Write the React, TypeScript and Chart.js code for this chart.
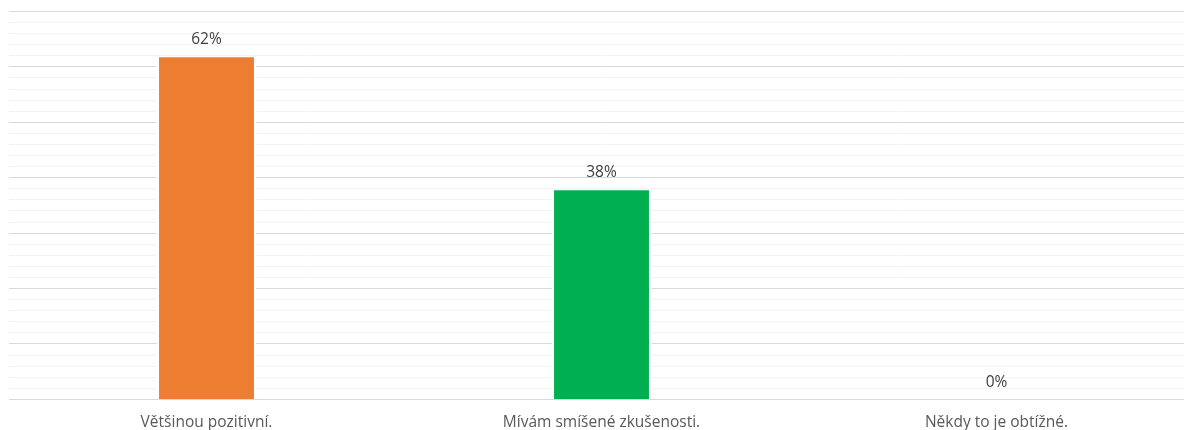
import React, { useEffect, useRef } from "react";
import { Chart, registerables } from "chart.js";

Chart.register(...registerables);

const categories = ["Většinou pozitivní.", "Mívám smíšené zkušenosti.", "Někdy to je obtížné."];
const values = [62, 38, 0];
const barColors = ["#ED7D31", "#00B050", "#4472C4"];
const yMax = 70;
const yStep = 2;

const FONT = "'Open Sans', sans-serif";
const FONT_SIZE = 15.5;

const dataLabels = {
  id: "dataLabels",
  afterDatasetsDraw(chart: any) {
    const ctx = chart.ctx;
    const meta = chart.getDatasetMeta(0);
    const yScale = chart.scales.y;
    ctx.save();
    ctx.font = `${FONT_SIZE}px ${FONT}`;
    ctx.fillStyle = "#404040";
    ctx.textAlign = "center";
    ctx.textBaseline = "alphabetic";
    meta.data.forEach((el: any, i: number) => {
      ctx.fillText(`${values[i]}%`, el.x, yScale.getPixelForValue(values[i]) - 12);
    });
    ctx.restore();
  },
};

export default function App() {
  const ref = useRef<HTMLCanvasElement>(null);
  useEffect(() => {
    const chart = new Chart(ref.current!, {
      type: "bar",
      data: {
        labels: categories,
        datasets: [
          {
            data: values,
            backgroundColor: barColors,
            borderColor: "#ffffff",
            borderWidth: { top: 1.5, left: 2.5, right: 2.5, bottom: 0 },
            borderSkipped: "bottom",
            barPercentage: 0.253,
            categoryPercentage: 1,
          },
        ],
      },
      options: {
        responsive: false,
        animation: false,
        layout: { padding: { left: 9, right: 0, top: 11.5, bottom: 0 } },
        plugins: { legend: { display: false }, tooltip: { enabled: false } },
        scales: {
          x: {
            grid: { display: false, drawTicks: false },
            border: { display: true, color: "#d9d9d9", width: 1 },
            ticks: { color: "#595959", font: { family: FONT, size: FONT_SIZE }, padding: 14 },
          },
          y: {
            min: 0,
            max: yMax,
            ticks: { display: false, stepSize: yStep },
            border: { display: false },
            grid: {
              drawTicks: false,
              tickLength: 0,
              color: (c: any) => (c.index % 5 === 0 ? "#d9d9d9" : "#f2f2f2"),
              lineWidth: 1,
            },
          },
        },
      },
      plugins: [dataLabels],
    });
    return () => chart.destroy();
  }, []);
  return (
    <div style={{ position: "absolute", left: 0, top: 0, width: 1184, height: 430, overflow: "hidden", background: "#fff" }}>
      <div style={{ width: 1194, height: 446 }}>
        <canvas ref={ref} width={1194} height={446} />
      </div>
    </div>
  );
}
